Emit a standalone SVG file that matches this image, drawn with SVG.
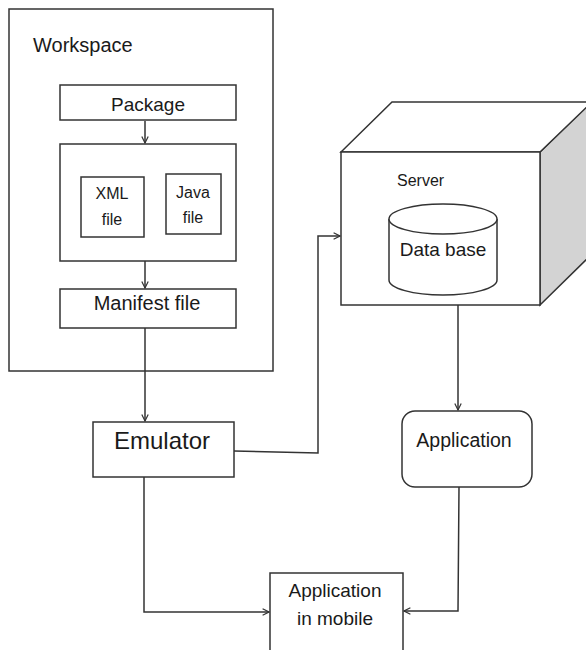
<svg xmlns="http://www.w3.org/2000/svg" width="586" height="650" viewBox="0 0 586 650">
<defs>
<style>
.box{fill:#fff;stroke:#333;stroke-width:1.5}
.ln{fill:none;stroke:#333;stroke-width:1.5}
text{font-family:"Liberation Sans",Arial,sans-serif;fill:#1a1a1a}
.c{text-anchor:middle}
</style>
<marker id="arr" viewBox="0 0 10 10" refX="9" refY="5" markerWidth="8" markerHeight="8" markerUnits="userSpaceOnUse" orient="auto">
<path d="M1,1 L9,5 L1,9" fill="none" stroke="#333" stroke-width="1.5"/>
</marker>
</defs>
<rect width="586" height="650" fill="#fff"/>
<g id="workspace">
<rect class="box" x="9" y="9" width="264" height="362"/>
<text x="33" y="52" font-size="20">Workspace</text>
</g>
<g id="package">
<rect class="box" x="60" y="85" width="176" height="35"/>
<text class="c" x="148" y="111" font-size="19">Package</text>
</g>
<g id="sources">
<rect class="box" x="60" y="144" width="176" height="117"/>
</g>
<g id="xml">
<rect class="box" x="81" y="177" width="63" height="60"/>
<text class="c" x="112" y="199" font-size="16">XML</text>
<text class="c" x="112" y="225" font-size="16">file</text>
</g>
<g id="java">
<rect class="box" x="166" y="174" width="55" height="60"/>
<text class="c" x="193" y="198" font-size="16">Java</text>
<text class="c" x="193" y="223" font-size="16">file</text>
</g>
<g id="manifest">
<rect class="box" x="60" y="289" width="176" height="39"/>
<text class="c" x="147" y="310" font-size="20">Manifest file</text>
</g>
<g id="emulator">
<rect class="box" x="93" y="422" width="141" height="55"/>
<text class="c" x="162" y="449" font-size="24">Emulator</text>
</g>
<g id="server">
<path d="M540,152 L592,101 L592,254 L540,305 Z" fill="#d3d3d3" stroke="#333" stroke-width="1.5"/>
<path d="M341,152 L392,102 L592,102 L540,152 Z" fill="#fff" stroke="#333" stroke-width="1.5"/>
<rect class="box" x="341" y="152" width="199" height="153"/>
<text x="397" y="186" font-size="16">Server</text>
</g>
<g id="database">
<path d="M389,219 L389,280 A54,15 0 0 0 497,280 L497,219" fill="#fff" stroke="#333" stroke-width="1.5"/>
<ellipse cx="443" cy="219" rx="54" ry="15" fill="#fff" stroke="#333" stroke-width="1.5"/>
<text class="c" x="443" y="256" font-size="19">Data base</text>
</g>
<g id="application">
<rect class="box" x="402" y="411" width="130" height="76" rx="13"/>
<text class="c" x="464" y="447" font-size="19.5">Application</text>
</g>
<g id="mobile">
<rect class="box" x="270" y="573" width="133" height="90"/>
<text class="c" x="335" y="597" font-size="19">Application</text>
<text class="c" x="335" y="625" font-size="19">in mobile</text>
</g>
<g id="connectors">
<path class="ln" d="M145,121 L145,143" marker-end="url(#arr)"/>
<path class="ln" d="M145,261 L145,288" marker-end="url(#arr)"/>
<path class="ln" d="M145,328 L145,421" marker-end="url(#arr)"/>
<path class="ln" d="M234,451 L318,453 L318,236 L340,236" marker-end="url(#arr)"/>
<path class="ln" d="M458,305 L458,410" marker-end="url(#arr)"/>
<path class="ln" d="M459,487 L458,611 L404,611" marker-end="url(#arr)"/>
<path class="ln" d="M144,477 L144,612 L269,612" marker-end="url(#arr)"/>
</g>
</svg>
